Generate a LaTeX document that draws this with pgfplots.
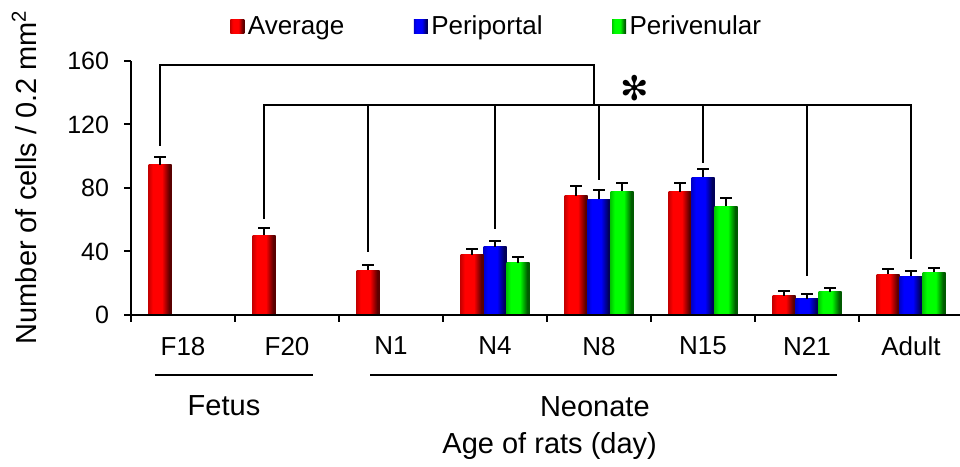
\documentclass[border=0pt]{standalone}
\usepackage{pgfplots}
\pgfplotsset{compat=1.18}
\usepackage{fontspec}
\setmainfont{Liberation Sans}
\newfontfamily\djv{DejaVu Sans}
\definecolor{rL}{RGB}{200,0,0}\definecolor{rM}{RGB}{255,0,0}\definecolor{rR}{RGB}{90,0,0}
\definecolor{bL}{RGB}{0,0,200}\definecolor{bM}{RGB}{0,0,255}\definecolor{bR}{RGB}{0,0,90}
\definecolor{gL}{RGB}{0,200,0}\definecolor{gM}{RGB}{0,255,0}\definecolor{gR}{RGB}{0,90,0}
\pgfdeclarehorizontalshading{redbar}{100bp}{color(0bp)=(rL); color(25bp)=(rL); color(34bp)=(rM); color(54bp)=(rM); color(70bp)=(rR); color(75bp)=(rR); color(100bp)=(rR)}
\pgfdeclarehorizontalshading{bluebar}{100bp}{color(0bp)=(bL); color(25bp)=(bL); color(34bp)=(bM); color(54bp)=(bM); color(70bp)=(bR); color(75bp)=(bR); color(100bp)=(bR)}
\pgfdeclarehorizontalshading{greenbar}{100bp}{color(0bp)=(gL); color(25bp)=(gL); color(34bp)=(gM); color(54bp)=(gM); color(70bp)=(gR); color(75bp)=(gR); color(100bp)=(gR)}
\newcommand{\onebar}[4]{\addplot[ybar, bar shift=0pt, draw=none, shading=#4, forget plot] coordinates {(#1,#2) +- (0,#3)};}
\begin{document}
\begin{tikzpicture}
\begin{axis}[
  scale only axis, width=414.5pt, height=127pt,
  xmin=-0.5, xmax=7.471, ymin=0, ymax=160,
  axis lines=left, axis line style={-, line width=1pt},
  clip=false, axis on top,
  ytick={0,40,...,160},
  xtick={0,...,7},
  xticklabels={F18,F20,N1,N4,N8,N15,N21,Adult},
  major x tick style={draw=none},
  minor xtick={-0.5,0.5,...,6.5},
  tick align=outside, major tick length=3.5pt, minor tick length=3.5pt,
  tick style={black, line width=1pt},
  /pgf/number format/assume math mode=true,
  yticklabel style={font=\fontsize{12.5}{14}\selectfont, xshift=-4pt},
  xticklabel style={font=\fontsize{13}{15}\selectfont, yshift=-4pt},
  ylabel={Number of cells / 0.2 mm\textsuperscript{2}},
  ylabel style={font=\fontsize{14.5}{17}\selectfont, at={(axis description cs:-0.129,0.543)}, anchor=center},
  xlabel={Age of rats (day)},
  xlabel style={font=\fontsize{14.5}{17}\selectfont, at={(axis description cs:0.505,-0.516)}, anchor=center},
  bar width=0.221,
  legend columns=3,
  legend style={at={(axis description cs:0.1194,1.134)}, anchor=west, draw=none, fill=none,
     inner sep=0pt, font=\fontsize{13}{15}\selectfont,
     nodes={inner sep=1.75pt},
     /tikz/every even column/.append style={column sep=33pt}},
  legend image code/.code={\path[#1, draw=none] (0pt,-3.5pt) rectangle (7pt,3.5pt);},
  error bars/y dir=plus, error bars/y explicit,
  error bars/error bar style={black, line width=1pt},
  error bars/error mark options={black, rotate=90, mark size=3pt, line width=1pt},
]
% legend carriers (first bar of each series)
\addplot[ybar, bar shift=0pt, draw=none, shading=redbar] coordinates {(-0.221,94.5) +- (0,5.0)};
\addlegendentry{Average}
\addplot[ybar, bar shift=0pt, draw=none, shading=bluebar] coordinates {(3,43.0) +- (0,3.8)};
\addlegendentry{Periportal}
\addplot[ybar, bar shift=0pt, draw=none, shading=greenbar] coordinates {(3.221,32.9) +- (0,3.8)};
\addlegendentry{Perivenular}
% Average
\onebar{0.779}{50.2}{4.6}{redbar}
\onebar{1.779}{28.2}{3.5}{redbar}
\onebar{2.779}{37.9}{3.8}{redbar}
\onebar{3.779}{75.2}{5.9}{redbar}
\onebar{4.779}{77.5}{5.6}{redbar}
\onebar{5.779}{12.2}{2.9}{redbar}
\onebar{6.779}{25.6}{3.2}{redbar}
% Periportal
\onebar{4}{72.9}{5.8}{bluebar}
\onebar{5}{86.9}{5.1}{bluebar}
\onebar{6}{10.3}{2.9}{bluebar}
\onebar{7}{24.4}{3.5}{bluebar}
% Perivenular
\onebar{4.221}{77.9}{5.2}{greenbar}
\onebar{5.221}{68.5}{5.4}{greenbar}
\onebar{6.221}{14.5}{2.7}{greenbar}
\onebar{7.221}{26.9}{2.9}{greenbar}
% brackets
\addplot[black, line width=1pt, forget plot] coordinates {(-0.221,106.5) (-0.221,157.5) (3.95,157.5) (3.95,132.3)};
\addplot[black, line width=1pt, forget plot] coordinates {(0.779,60.5) (0.779,132.3) (7,132.3) (7,35)};
\addplot[black, line width=1pt, forget plot] coordinates {(1.779,132.3) (1.779,39.5)};
\addplot[black, line width=1pt, forget plot] coordinates {(3,132.3) (3,54)};
\addplot[black, line width=1pt, forget plot] coordinates {(4,132.3) (4,84.8)};
\addplot[black, line width=1pt, forget plot] coordinates {(5,132.3) (5,95.5)};
\addplot[black, line width=1pt, forget plot] coordinates {(6,132.3) (6,24.6)};
% group lines
\addplot[black, line width=1.2pt, forget plot] coordinates {(-0.27,-37.8) (1.25,-37.8)};
\addplot[black, line width=1.2pt, forget plot] coordinates {(1.80,-37.8) (6.29,-37.8)};
\node[font=\fontsize{14.5}{17}\selectfont] at (axis cs:0.394,-57.3) {Fetus};
\node[font=\fontsize{14.5}{17}\selectfont] at (axis cs:3.96,-58) {Neonate};
\node[font=\djv\fontsize{17}{20}\selectfont] at (axis cs:4.34,143) {✻};
\coordinate (bbSW) at (axis cs:-1.76,-95.7);
\coordinate (bbNE) at (axis cs:7.471,198.4);
\end{axis}
\pgfresetboundingbox
\path[use as bounding box] (bbSW) rectangle (bbNE);
\end{tikzpicture}
\end{document}
